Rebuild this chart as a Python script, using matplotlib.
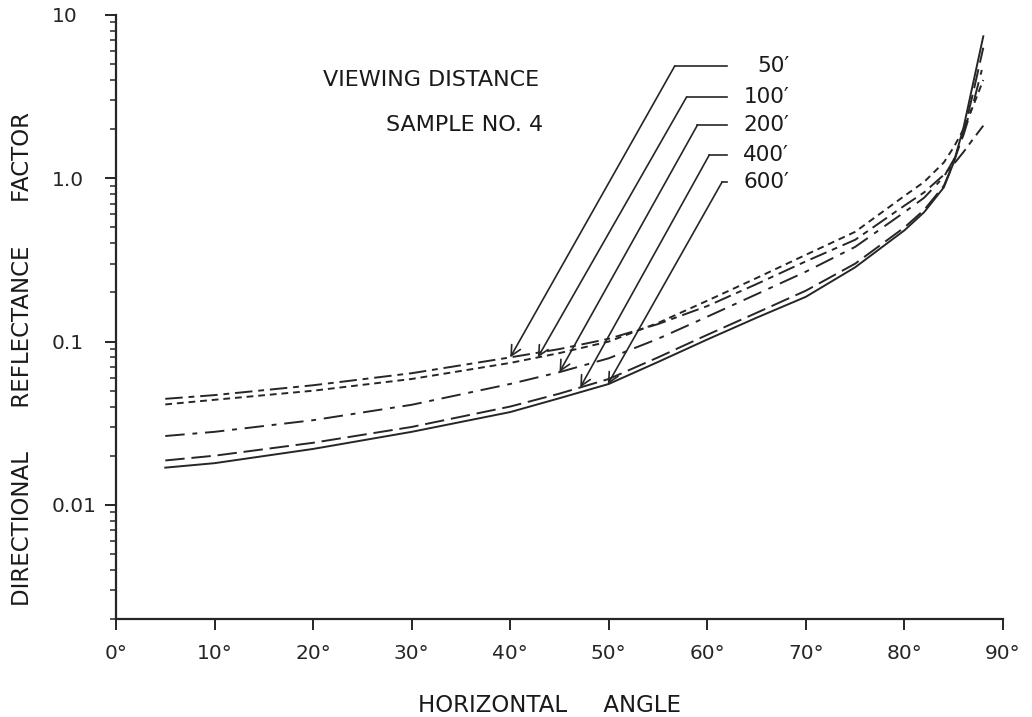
#!/usr/bin/env python3
"""
Directional reflectance factor vs horizontal angle, sample no. 4,
one curve per viewing distance (log scale)
"""

import numpy as np
import matplotlib
matplotlib.use("Agg")
import matplotlib.pyplot as plt
from matplotlib.ticker import LogLocator, FixedLocator, NullFormatter

# Horizontal angle (degrees) at which the curves were read
angles = [5, 10, 20, 30, 40, 45, 50, 55, 60, 65, 70, 75, 80, 82, 84, 85, 86, 87, 88]

# Directional reflectance factor for each viewing distance
refl_50 = [0.0446, 0.047, 0.054, 0.064, 0.080, 0.090, 0.104, 0.128, 0.165, 0.225,
           0.31, 0.42, 0.68, 0.82, 1.05, 1.22, 1.45, 1.75, 2.1]
refl_100 = [0.0412, 0.044, 0.050, 0.059, 0.074, 0.085, 0.100, 0.130, 0.178, 0.245,
            0.34, 0.47, 0.78, 0.95, 1.25, 1.55, 2.0, 2.8, 4.0]
refl_200 = [0.0264, 0.028, 0.033, 0.041, 0.055, 0.065, 0.079, 0.104, 0.142, 0.195,
            0.268, 0.38, 0.62, 0.76, 1.02, 1.30, 1.85, 2.9, 5.0]
refl_400 = [0.0187, 0.020, 0.024, 0.030, 0.040, 0.048, 0.059, 0.080, 0.110, 0.150,
            0.205, 0.30, 0.50, 0.64, 0.90, 1.25, 1.90, 3.4, 6.3]
refl_600 = [0.0169, 0.018, 0.022, 0.028, 0.037, 0.045, 0.055, 0.075, 0.103, 0.140,
            0.188, 0.285, 0.48, 0.62, 0.88, 1.25, 2.05, 3.9, 7.4]

distance_labels = ["50′", "100′", "200′", "400′", "600′"]

# Where each callout arrow touches its curve (degrees)
arrow_angles = [40.0, 42.8, 45.0, 47.1, 49.9]
# Elbow of each callout (degrees, reflectance) and end of the leader line
elbow_x = [56.7, 57.9, 59.0, 60.2, 61.5]
elbow_y = [4.88, 3.15, 2.12, 1.39, 0.95]
leader_end_x = 62.0
label_right_x = 68.3

LINE_COLOR = "#262626"
TEXT_COLOR = "#1a1a1a"


def draw_chart(save_path="out.png"):
    """Draw the reflectance curves with their callouts"""
    fig = plt.figure(figsize=(10.32, 7.17), dpi=100)
    ax = fig.add_axes([0.1124, 0.1367, 0.8595, 0.8424])

    series = [refl_50, refl_100, refl_200, refl_400, refl_600]
    styles = [
        (0, (9, 3, 3, 3)),      # 50'
        (0, (3.5, 2.5)),        # 100'
        (0, (10, 4, 2.5, 4)),   # 200'
        (0, (10, 3.5)),         # 400'
        "-",                    # 600'
    ]
    for values, ls in zip(series, styles):
        ax.plot(angles, values, color=LINE_COLOR, lw=1.4, linestyle=ls)

    # Callouts: leader line from label, then diagonal arrow to the curve
    for i, values in enumerate(series):
        tip_x = arrow_angles[i]
        tip_y = np.exp(np.interp(tip_x, angles, np.log(values)))
        ax.plot([elbow_x[i], leader_end_x], [elbow_y[i], elbow_y[i]],
                color=LINE_COLOR, lw=1.2)
        ax.annotate("", xy=(tip_x, tip_y), xytext=(elbow_x[i], elbow_y[i]),
                    arrowprops=dict(arrowstyle="->", color=LINE_COLOR, lw=1.2,
                                    shrinkA=0, shrinkB=0,
                                    mutation_scale=18))
        ax.text(label_right_x, elbow_y[i], distance_labels[i],
                fontsize=15.5, va="center", ha="right", color=TEXT_COLOR)

    ax.text(21.0, 4.0, "VIEWING DISTANCE", fontsize=16, color=TEXT_COLOR,
            va="center", ha="left")
    ax.text(27.4, 2.12, "SAMPLE NO. 4", fontsize=16, color=TEXT_COLOR,
            va="center", ha="left")

    # Axes
    ax.set_yscale("log")
    ax.set_xlim(0, 90)
    ax.set_ylim(0.002, 10)
    for side in ("top", "right"):
        ax.spines[side].set_visible(False)
    for side in ("left", "bottom"):
        ax.spines[side].set_linewidth(1.6)
        ax.spines[side].set_color(LINE_COLOR)

    ax.xaxis.set_major_locator(FixedLocator(range(0, 91, 10)))
    ax.set_xticklabels([f"{a}°" for a in range(0, 91, 10)])
    ax.yaxis.set_major_locator(FixedLocator([0.01, 0.1, 1.0, 10]))
    ax.set_yticklabels(["0.01", "0.1", "1.0", "10"])
    ax.yaxis.set_minor_locator(LogLocator(base=10, subs=np.arange(2, 10)))
    ax.yaxis.set_minor_formatter(NullFormatter())

    ax.tick_params(axis="x", which="major", length=8, width=1.4,
                   direction="out", pad=10, labelsize=14.5, colors=LINE_COLOR)
    ax.tick_params(axis="y", which="major", length=8, width=1.4,
                   direction="out", pad=38, labelsize=14.5, colors=LINE_COLOR)
    ax.tick_params(axis="y", which="minor", length=4, width=1.1,
                   direction="out", colors=LINE_COLOR)
    for label in ax.get_yticklabels():
        label.set_horizontalalignment("left")

    # Axis titles, spaced out like hand lettering
    fig.text(0.532, 0.0167, "HORIZONTAL     ANGLE", fontsize=16.5,
             ha="center", va="center", color=TEXT_COLOR)
    fig.text(0.022, 0.50, "DIRECTIONAL      REFLECTANCE      FACTOR",
             fontsize=16.5, rotation=90, ha="center", va="center",
             color=TEXT_COLOR)

    fig.savefig(save_path, dpi=100)
    print(f"saved {save_path}")


def main():
    draw_chart("out.png")


if __name__ == "__main__":
    main()
